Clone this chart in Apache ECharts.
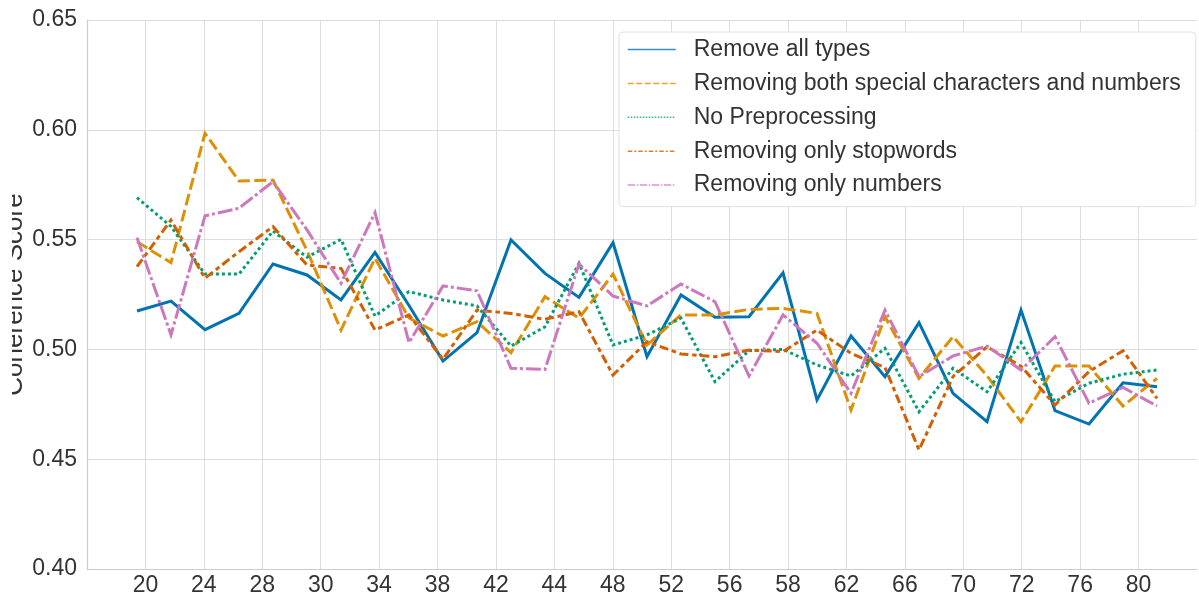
<!DOCTYPE html>
<html lang="en">
<head>
	<meta charset="UTF-8">
	<title>Coherence Score by preprocessing</title>
	<style>
		html, body { margin: 0; padding: 0; background: #fff; }
		#chart { width: 1199px; height: 598px; }
	</style>
</head>
<body>
<div id="chart"></div>

<script src="https://cdn.jsdelivr.net/npm/echarts@6/dist/echarts.min.js"></script>
<script>

	// number of topics (x of each point)
	var topics = [20, 22, 24, 26, 28, 30, 32, 34, 36, 38, 40, 42, 44, 46, 48, 50,
		52, 54, 56, 58, 60, 62, 64, 66, 68, 70, 72, 74, 76, 78, 80];

	// tick labels as printed under the axis ('' = edge, no label)
	var tickLabels = ['', '20', '24', '28', '30', '34', '38', '42', '44', '48', '52',
		'56', '58', '62', '66', '70', '72', '76', '80', ''];

	var seriesNames = [
		'Remove all types',
		'Removing both special characters and numbers',
		'No Preprocessing',
		'Removing only stopwords',
		'Removing only numbers'
	];

	var removeAll = [0.5175, 0.522, 0.509, 0.5164, 0.5389, 0.5339, 0.5225, 0.5442, 0.520, 0.4947,
		0.5076, 0.5498, 0.5346, 0.5237, 0.5486, 0.4967, 0.5248, 0.5146, 0.5149, 0.5349,
		0.477, 0.5061, 0.4876, 0.5122, 0.480, 0.4671, 0.5179, 0.4721, 0.466, 0.4848, 0.483];

	var removeSpecialNum = [0.549, 0.5395, 0.5984, 0.5767, 0.5771, 0.545, 0.5088, 0.5415, 0.5143, 0.5061,
		0.5126, 0.4985, 0.524, 0.5142, 0.5343, 0.502, 0.5157, 0.5157, 0.5182, 0.5187,
		0.5164, 0.4724, 0.5149, 0.4868, 0.5058, 0.488, 0.467, 0.4924, 0.4924, 0.4742, 0.4868];

	var noPreprocessing = [0.5691, 0.556, 0.5343, 0.5343, 0.5539, 0.542, 0.5501, 0.5152, 0.5263, 0.5225,
		0.5198, 0.5015, 0.5103, 0.5392, 0.502, 0.5066, 0.5142, 0.4853, 0.4994, 0.500,
		0.4929, 0.4879, 0.5005, 0.4716, 0.4914, 0.4807, 0.5031, 0.4762, 0.4846, 0.4887, 0.4906];

	var onlyStopwords = [0.5377, 0.5589, 0.5324, 0.5445, 0.5559, 0.5384, 0.5369, 0.5088, 0.5157, 0.4955,
		0.5179, 0.5164, 0.5137, 0.5172, 0.4883, 0.5035, 0.4979, 0.4967, 0.4997, 0.499,
		0.5088, 0.4982, 0.4918, 0.4542, 0.4876, 0.5012, 0.4924, 0.4747, 0.4899, 0.4994, 0.4777];

	var onlyNumbers = [0.5509, 0.5066, 0.5608, 0.5643, 0.5764, 0.5544, 0.5301, 0.5623, 0.5031, 0.5289,
		0.5267, 0.4914, 0.4909, 0.5389, 0.5243, 0.5198, 0.5298, 0.5217, 0.4879, 0.5157,
		0.5028, 0.48, 0.5179, 0.4876, 0.497, 0.5015, 0.4906, 0.5058, 0.4755, 0.4827, 0.4742];

	var colors = ['#0173b2', '#de8f05', '#029e73', '#d55e00', '#cc78bc'];
	var dashes = ['solid', [12, 4.5], [3, 3], [9, 3.75, 4.5, 3.75], [15, 3, 3, 3]];
	// legend icons are drawn thinner, so their dashes are shorter too
	var legendDashes = ['solid', [6, 2.5], [1.5, 1.5], [4.5, 2, 2, 2], [7.5, 1.5, 1.5, 1.5]];
	var allValues = [removeAll, removeSpecialNum, noPreprocessing, onlyStopwords, onlyNumbers];

	var fontName = '"Liberation Sans", Arial, sans-serif';

	function pairs(values) {
		var out = [];
		for (var i = 0; i < values.length; i++) {
			out.push([topics[i], values[i]]);
		}
		return out;
	}

	var seriesList = [];
	var legendItems = [];
	for (var s = 0; s < seriesNames.length; s++) {
		seriesList.push({
			name: seriesNames[s],
			type: 'line',
			xAxisIndex: 0,
			data: pairs(allValues[s]),
			showSymbol: false,
			symbol: 'none',
			lineStyle: {
				color: colors[s],
				width: 3,
				type: dashes[s],
				cap: 'butt',
				join: 'miter'
			},
			itemStyle: { color: colors[s] }
		});
		legendItems.push({
			name: seriesNames[s],
			lineStyle: { color: colors[s], width: 1.5, type: legendDashes[s], opacity: 0.8 }
		});
	}

	var myChart = echarts.init(document.getElementById('chart'), null, { renderer: 'canvas' });

	var option = {
		animation: false,
		backgroundColor: '#ffffff',
		grid: { left: 87, right: 2, top: 20, bottom: 29, outerBoundsMode: 'none', containLabel: false },
		legend: {
			data: legendItems,
			orient: 'vertical',
			left: 619,
			top: 32,
			itemWidth: 48,
			itemHeight: 14,
			itemGap: 8.9,
			padding: [5, 15, 9, 8],
			backgroundColor: '#ffffff',
			borderColor: '#e0e0e0',
			borderWidth: 1,
			borderRadius: 4,
			itemStyle: { opacity: 0 },
			textStyle: {
				fontFamily: fontName,
				fontSize: 23,
				lineHeight: 25,
				color: '#333333',
				padding: [0, 0, 0, 13]
			}
		},
		// white strip: the left edge of the axis title is cut off in the original
		graphic: [{
			type: 'rect',
			left: 0,
			top: 100,
			z: 100,
			shape: { width: 12, height: 400 },
			style: { fill: '#ffffff' }
		}],
		xAxis: [{
			type: 'value',
			show: false,
			min: 17.059,
			max: 82.353
		}, {
			type: 'category',
			position: 'bottom',
			boundaryGap: false,
			data: tickLabels,
			axisLine: { show: true, lineStyle: { color: '#cccccc', width: 1.2 } },
			axisTick: { show: false },
			axisLabel: {
				fontFamily: fontName,
				fontSize: 23,
				color: '#333333',
				margin: 5,
				interval: 0
			},
			splitLine: {
				show: true,
				interval: function (idx) { return idx > 0 && idx < tickLabels.length - 1; },
				lineStyle: { color: '#dddddd', width: 1 }
			}
		}],
		yAxis: {
			type: 'value',
			min: 0.40,
			max: 0.65,
			interval: 0.05,
			name: 'Coherence Score',
			nameLocation: 'middle',
			nameGap: 59,
			nameMoveOverlap: false,
			nameTextStyle: { fontFamily: fontName, fontSize: 26, color: '#333333' },
			axisLine: { show: true, lineStyle: { color: '#cccccc', width: 1.2 } },
			axisTick: { show: false },
			axisLabel: {
				fontFamily: fontName,
				fontSize: 23,
				color: '#333333',
				margin: 10,
				formatter: function (v) { return v.toFixed(2); }
			},
			splitLine: { show: true, lineStyle: { color: '#dddddd', width: 1 } }
		},
		series: seriesList
	};

	myChart.setOption(option);

</script>
</body>
</html>
